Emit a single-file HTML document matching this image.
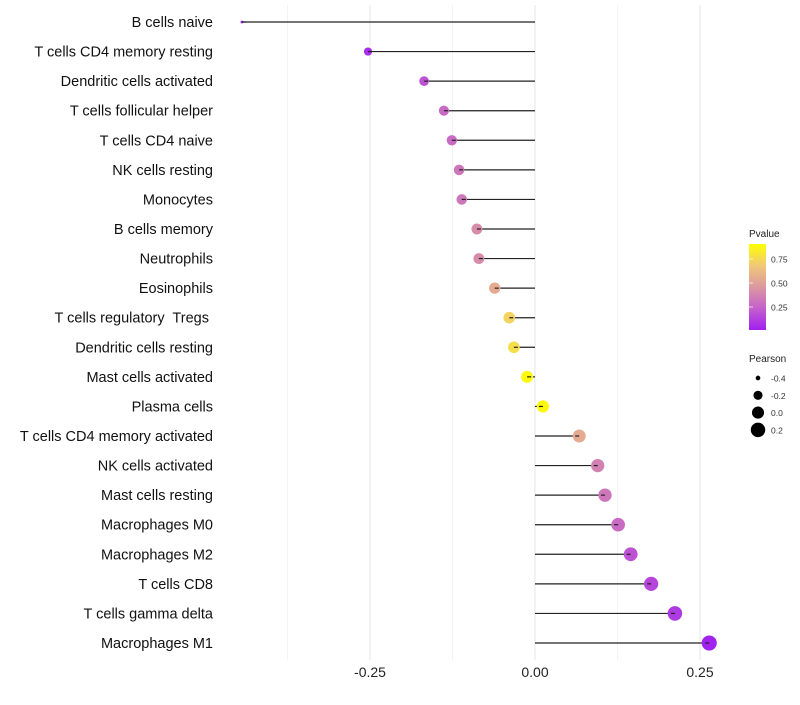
<!DOCTYPE html>
<html><head><meta charset="utf-8"><style>body{margin:0;background:#fff}svg{font-family:"Liberation Sans",sans-serif}text{white-space:pre}</style></head>
<body>
<svg id="c" width="800" height="700">
<defs><linearGradient id="g" x1="0" y1="1" x2="0" y2="0">
<stop offset="0" stop-color="#A020F0"/><stop offset="0.25" stop-color="#C460CC"/><stop offset="0.5" stop-color="#DC98A0"/><stop offset="0.75" stop-color="#F0C878"/><stop offset="1" stop-color="#FFFF00"/></linearGradient></defs>
</svg>
<script>
const categories=["B cells naive","T cells CD4 memory resting","Dendritic cells activated","T cells follicular helper","T cells CD4 naive","NK cells resting","Monocytes","B cells memory","Neutrophils","Eosinophils","T cells regulatory  Tregs ","Dendritic cells resting","Mast cells activated","Plasma cells","T cells CD4 memory activated","NK cells activated","Mast cells resting","Macrophages M0","Macrophages M2","T cells CD8","T cells gamma delta","Macrophages M1"];
const pearson=[-0.444,-0.253,-0.168,-0.138,-0.126,-0.115,-0.111,-0.088,-0.085,-0.061,-0.039,-0.032,-0.012,0.012,0.067,0.095,0.106,0.126,0.145,0.176,0.212,0.264];
const pvalue=[0.0,0.05,0.2,0.3,0.3,0.35,0.35,0.45,0.45,0.6,0.8,0.85,0.97,0.97,0.6,0.4,0.35,0.3,0.2,0.15,0.1,0.01];
const xTicks=[-0.25,0,0.25];
const xTickLabels=["-0.25","0.00","0.25"];
const pTicks=[0.25,0.5,0.75];
const sizeVals=[-0.4,-0.2,0.0,0.2];
const NS="http://www.w3.org/2000/svg",svg=document.getElementById('c');
function el(t,a,p){const e=document.createElementNS(NS,t);for(const k in a)e.setAttribute(k,a[k]);(p||svg).appendChild(e);return e;}
const x=v=>535+v*660;
const y=i=>22+i*(621/(categories.length-1));
const r=v=>Math.sqrt(Math.max(1,2+(v+0.444)/0.708*55));
const stops=[[160,32,240],[196,96,204],[220,152,160],[240,200,120],[255,255,0]];
function col(p){const t=Math.min(1,Math.max(0,p))*4,i=Math.min(3,Math.floor(t)),f=t-i;const a=stops[i],b=stops[i+1];return `rgb(${a.map((c,k)=>Math.round(c+(b[k]-c)*f)).join(',')})`;}
[-0.375,-0.125,0.125].forEach(v=>{const g=el('line',{x1:x(v),x2:x(v),y1:5,y2:660,stroke:'#f0f0f0','stroke-width':0.8});

});
xTicks.forEach((v,i)=>{const g=el('line',{x1:x(v),x2:x(v),y1:5,y2:660,stroke:'#e6e6e6','stroke-width':1});


const t=el('text',{x:x(v),y:677,'text-anchor':'middle','font-size':14,fill:'#222'});t.textContent=xTickLabels[i];

});
categories.forEach((c,i)=>{const t=el('text',{x:213,y:y(i)+5,'text-anchor':'end','font-size':14.5,fill:'#111','xml:space':'preserve'});t.textContent=c;


const l=el('line',{x1:x(0),x2:x(pearson[i]),y1:y(i),y2:y(i),stroke:'#222','stroke-width':1.2});


const d=el('circle',{cx:x(pearson[i]),cy:y(i),r:r(pearson[i]),fill:col(pvalue[i])});


const l2=el('line',{x1:x(pearson[i]),x2:x(pearson[i])+(pearson[i]<0?4:-4),y1:y(i),y2:y(i),stroke:'#222','stroke-width':1.2});

});
let t=el('text',{x:749,y:237,'font-size':10,fill:'#222'});t.textContent='Pvalue';


const bar=el('rect',{x:749,y:244,width:17,height:86,fill:'url(#g)'});


const py=p=>331-p*96;
pTicks.forEach(p=>{const k=el('text',{x:771,y:py(p)+3.5,'font-size':8.5,fill:'#333'});k.textContent=p.toFixed(2);


const m=el('line',{x1:749,x2:753,y1:py(p),y2:py(p),stroke:'#fff','stroke-width':0.7});

});
t=el('text',{x:749,y:362,'font-size':10,fill:'#222'});t.textContent='Pearson';


sizeVals.forEach((v,i)=>{const cy=378+i*17.3;const c=el('circle',{cx:758,cy:cy,r:r(v),fill:'#000'});


const k=el('text',{x:771,y:cy+3.5,'font-size':8.5,fill:'#333'});k.textContent=v.toFixed(1);

});
</script>
</body></html>
